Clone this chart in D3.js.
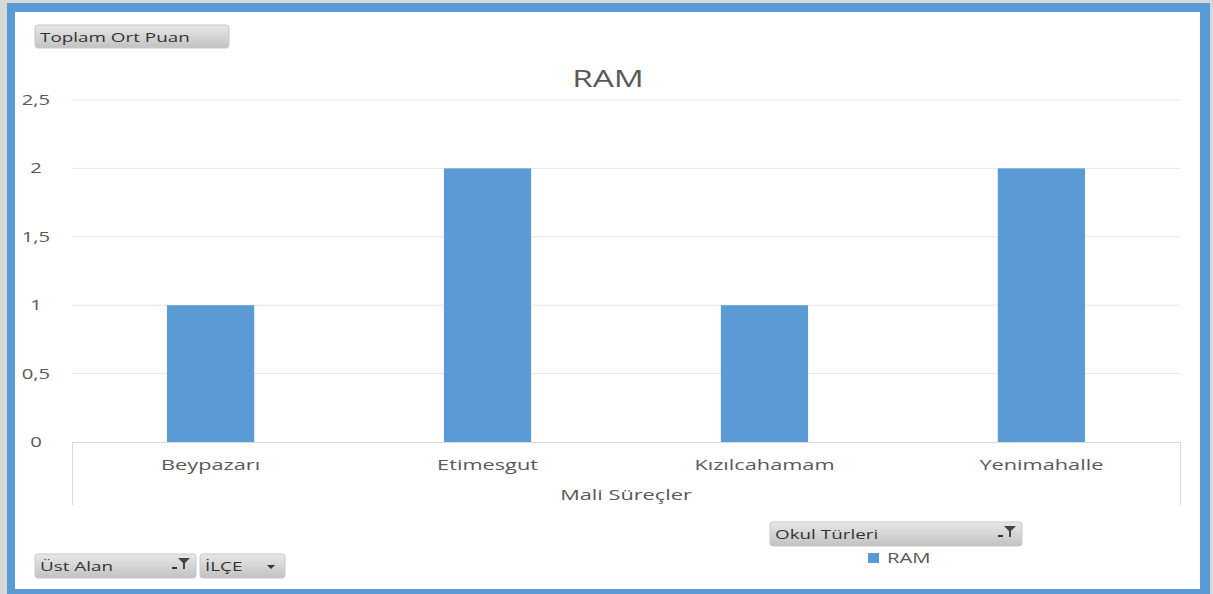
<!DOCTYPE html>
<html>
<head>
<meta charset="utf-8">
<script src="https://d3js.org/d3.v7.min.js"></script>
<style>
  body { margin: 0; background: #fff; }
  text { font-family: "Open Sans", "DejaVu Sans", sans-serif; }
</style>
</head>
<body>
<div id="chart"></div>
<script>
const categories = ['Beypazarı', 'Etimesgut', 'Kızılcahamam', 'Yenimahalle'];
const ramValues = [1, 2, 1, 2];
const yTicks = [0, 0.5, 1, 1.5, 2, 2.5];
const seriesName = 'RAM';
const axisTitle = 'Mali Süreçler';

const width = 1213, height = 594;
const stretch = 1.45; // the screenshot text looks stretched sideways

const svg = d3.select('#chart').append('svg')
  .attr('width', width).attr('height', height);

const defs = svg.append('defs');
const grad = defs.append('linearGradient').attr('id', 'btn').attr('x1', 0).attr('y1', 0).attr('x2', 0).attr('y2', 1);
grad.append('stop').attr('offset', '0%').attr('stop-color', '#e8e8e8');
grad.append('stop').attr('offset', '100%').attr('stop-color', '#c2c2c2');

function label(parent, tx, ty, str, size, anchor, fill) {
  return parent.append('text')
    .attr('transform', `translate(${tx},${ty}) scale(${stretch},1)`)
    .attr('text-anchor', anchor || 'start')
    .attr('font-size', size)
    .attr('fill', fill || '#595959')
    .text(str);
}

// outer frame
svg.append('rect').attr('x', 0).attr('y', 0).attr('width', width).attr('height', height).attr('fill', '#d8d8d8');
svg.append('rect').attr('x', 7).attr('y', 3).attr('width', 1203).attr('height', 591).attr('fill', '#5b9bd5');
svg.append('rect').attr('x', 15).attr('y', 12).attr('width', 1185).attr('height', 577).attr('fill', '#fff');

const x = d3.scaleBand().domain(categories).range([72, 1180]).paddingInner(0.685).paddingOuter(0.343);
const y = d3.scaleLinear().domain([0, 2.5]).range([442, 100]);

// gridlines
svg.append('g').selectAll('line').data(yTicks.filter(d => d > 0)).join('line')
  .attr('x1', 72).attr('x2', 1180)
  .attr('y1', d => y(d)).attr('y2', d => y(d))
  .attr('stroke', '#e6e6e6').attr('stroke-width', 1);

// y axis labels
const yg = svg.append('g');
yTicks.forEach(t => label(yg, 36, y(t) + 5, String(t).replace('.', ','), 14, 'middle'));

// bars
svg.append('g').selectAll('rect').data(ramValues).join('rect')
  .attr('x', (d, i) => x(categories[i]))
  .attr('y', d => y(d))
  .attr('width', x.bandwidth())
  .attr('height', d => y(0) - y(d))
  .attr('fill', '#5b9bd5');

// category axis box
svg.append('line').attr('x1', 72).attr('x2', 1180).attr('y1', y(0) + 0.5).attr('y2', y(0) + 0.5).attr('stroke', '#d9d9d9');
svg.append('line').attr('x1', 72.5).attr('x2', 72.5).attr('y1', y(0)).attr('y2', 505).attr('stroke', '#d9d9d9');
svg.append('line').attr('x1', 1180.5).attr('x2', 1180.5).attr('y1', y(0)).attr('y2', 505).attr('stroke', '#d9d9d9');

const xg = svg.append('g');
categories.forEach(c => label(xg, x(c) + x.bandwidth() / 2, 470, c, 15, 'middle'));
label(svg, 626, 500, axisTitle, 15, 'middle');

// title
label(svg, 608, 87, seriesName, 23, 'middle');

// field buttons
function button(bx, by, w, h, txt, icon) {
  const g = svg.append('g').attr('transform', `translate(${bx},${by})`);
  g.append('rect').attr('width', w).attr('height', h).attr('rx', 3)
    .attr('fill', 'url(#btn)').attr('stroke', '#c8c8c8');
  label(g, 5, h / 2 + 5, txt, 13, 'start', '#333');
  if (icon === 'filter') {
    g.append('path').attr('d', `M${w - 24},${h / 2 + 2}h5`).attr('stroke', '#333').attr('stroke-width', 2);
    g.append('path').attr('d', `M${w - 18},${h / 2 - 8}h12l-5,5v6h-2v-6z`).attr('fill', '#444');
  } else if (icon === 'drop') {
    g.append('path').attr('d', `M${w - 18},${h / 2 - 1}h8l-4,4z`).attr('fill', '#333');
  }
}
button(35, 25, 194, 23, 'Toplam Ort Puan', null);
button(35, 554, 161, 24, 'Üst Alan', 'filter');
button(200, 554, 85, 24, 'İLÇE', 'drop');
button(770, 522, 252, 24, 'Okul Türleri', 'filter');

// legend
svg.append('rect').attr('x', 868).attr('y', 553).attr('width', 11).attr('height', 10).attr('fill', '#5b9bd5');
label(svg, 887, 563, seriesName, 14);
</script>
</body>
</html>
